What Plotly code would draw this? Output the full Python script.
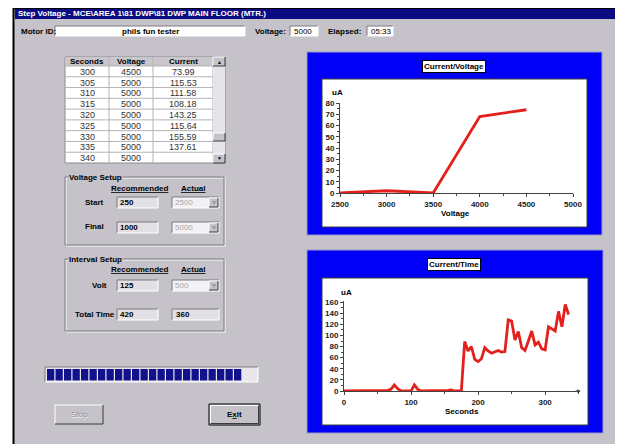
import plotly.graph_objects as go

W, H = 623, 444
OFF = 8  # page body margin pushes the figure 8px right and down
FONT = "Liberation Sans"
GRAY = "#c5c2c9"
DARK = "#7c7a80"
BLUE = "#0000f6"
RED = "#e3201c"

# ---- chart data ----
cv_voltage = [2500, 3000, 3500, 4000, 4500]
cv_current = [0, 2, 0, 68, 73.99]

ct_seconds = [0, 5, 10, 15, 20, 25, 30, 35, 40, 45, 50, 55, 60, 65, 70, 75, 80,
              85, 90, 95, 100, 105, 110, 115, 120, 125, 130, 135, 140, 145, 150,
              155, 160, 165, 170, 175, 180, 185, 190, 195, 200, 205, 210, 215,
              220, 225, 230, 235, 240, 245, 250, 255, 260, 265, 270, 275, 280,
              285, 290, 295, 300, 305, 310, 315, 320, 325, 330, 335]
ct_current = [0, 0, 0, 0, 0, 0, 0, 0, 0, 0, 0, 0, 0, 1, 3, 11, 4,
              0, 0, 0, 0, 11, 3, 0, 0, 0, 0, 0, 0, 0, 0,
              1, 2, 0, 0, 0, 89, 72, 80, 57, 53, 58, 78, 72,
              68, 71, 73, 70, 71, 128, 126, 92, 107, 78, 73, 90, 108,
              83, 88, 76, 73.99, 115.53, 111.58, 108.18, 143.25, 115.64, 155.59, 137.61]

# ---- panel data ----
table_header = ["Seconds", "Voltage", "Current"]
table_seconds = ["300", "305", "310", "315", "320", "325", "330", "335", "340"]
table_voltage = ["4500", "5000", "5000", "5000", "5000", "5000", "5000", "5000", "5000"]
table_current = ["73.99", "115.53", "111.58", "108.18", "143.25", "115.64", "155.59", "137.61", ""]

window_title = "Step Voltage - MCE\\AREA 1\\81 DWP\\81 DWP MAIN FLOOR (MTR.)"
motor_id = "phils fun tester"
voltage_now = "5000"
elapsed = "05:33"

vs_labels = ["Start", "Final"]
vs_recommended = ["250", "1000"]
vs_actual = ["2500", "5000"]
iv_labels = ["Volt", "Total Time"]
iv_recommended = ["125", "420"]
iv_actual = ["500", "360"]
progress_blocks = 23

shapes = []
annots = []


def X(px):
    return (px - OFF) / W


def Y(py):
    return 1 - (py - OFF) / H


def rect(x0, y0, x1, y1, fill, line=None, lw=1):
    shapes.append(dict(type="rect", xref="paper", yref="paper",
                       x0=X(x0), y0=Y(y1), x1=X(x1), y1=Y(y0),
                       fillcolor=fill, layer="below",
                       line=dict(color=line or fill, width=lw if line else 0)))


def seg(x0, y0, x1, y1, color, w=1):
    shapes.append(dict(type="line", xref="paper", yref="paper",
                       x0=X(x0), y0=Y(y0), x1=X(x1), y1=Y(y1), layer="below",
                       line=dict(color=color, width=w)))


def txt(x, y, s, size=8, color="#000", xanchor="left", bold=True, bg=None):
    annots.append(dict(x=X(x), y=Y(y), xref="paper", yref="paper",
                       text=("<b>%s</b>" % s) if bold else s, showarrow=False,
                       xanchor=xanchor, yanchor="middle", borderpad=0, bgcolor=bg,
                       font=dict(size=size, color=color, family=FONT)))


def sunken(x0, y0, x1, y1, fill="white"):
    rect(x0, y0, x1, y1, fill)
    seg(x0, y0, x1, y0, DARK)
    seg(x0, y0, x0, y1, DARK)
    seg(x0, y1, x1, y1, "white")
    seg(x1, y0, x1, y1, "white")


def raised(x0, y0, x1, y1, fill=GRAY):
    rect(x0, y0, x1, y1, fill)
    seg(x0, y0, x1, y0, "white")
    seg(x0, y0, x0, y1, "white")
    seg(x0, y1, x1, y1, "#3a3a3a")
    seg(x1, y0, x1, y1, "#3a3a3a")


def group(x0, y0, x1, y1, label):
    rect(x0 + 1, y0 + 1, x1 + 1, y1 + 1, "rgba(0,0,0,0)", "white")
    rect(x0, y0, x1, y1, "rgba(0,0,0,0)", DARK)
    txt(x0 + 3, y0, label, bg=GRAY)


def combo(x0, y0, x1, y1, value):
    sunken(x0, y0, x1, y1, "#f2f1f3")
    txt(x0 + 2, (y0 + y1) / 2, value, color="#a8a6ac", bold=False)
    raised(x1 - 10, y0 + 1, x1 - 1, y1 - 1)
    txt(x1 - 5.5, (y0 + y1) / 2, "▾", size=8, color="#9a989e", xanchor="center", bold=False)


# window background and title bar
rect(13, 7, W + OFF, H + OFF, GRAY)
seg(13.5, 8, 13.5, H + OFF, "black", 2)
seg(13, 8.5, W + OFF, 8.5, "black", 1.5)
rect(15, 9, W + OFF, 19, "#0b0b84")
txt(17, 14, window_title, color="white")

# top row fields
txt(20, 31, "Motor ID:")
sunken(55, 26, 245, 36)
txt(150, 31, motor_id, xanchor="center")
txt(287, 31, "Voltage:", xanchor="right")
sunken(290, 26, 318, 36)
txt(293, 31, voltage_now, bold=False)
txt(362, 31, "Elapsed:", xanchor="right")
sunken(367, 26, 393, 36)
txt(370, 31, elapsed, bold=False)

# data table
rect(65, 57, 225, 163, "white", "#8c8a90")
rect(65, 57, 213, 66, "#c9c7cc")
col_edges = [65, 109, 153, 213]
for i, h in enumerate(table_header):
    txt((col_edges[i] + col_edges[i + 1]) / 2, 61.5, h, xanchor="center")
row_h = (163 - 66) / len(table_seconds)
for c in col_edges[1:]:
    seg(c, 57, c, 163, "#b4b2b8")
for r in range(len(table_seconds)):
    yy = 66 + r * row_h
    seg(65, yy, 213, yy, "#b4b2b8")
    for i, col in enumerate([table_seconds, table_voltage, table_current]):
        txt((col_edges[i] + col_edges[i + 1]) / 2, yy + row_h / 2 + 0.5, col[r],
            size=9, color="#333", xanchor="center", bold=False)
# scrollbar
rect(213, 57, 225, 163, "#e6e4e8")
raised(213, 57, 225, 66)
raised(213, 154, 225, 163)
raised(213, 133, 225, 141)
txt(219, 61.5, "▲", size=5, xanchor="center", bold=False)
txt(219, 158.5, "▼", size=5, xanchor="center", bold=False)

# voltage setup
group(65, 177, 224, 245, "Voltage Setup")
txt(139, 188, "<u>Recommended</u>", xanchor="center")
txt(193, 188, "<u>Actual</u>", xanchor="center")
for i, lab in enumerate(vs_labels):
    y0 = 197 + i * 25
    txt(105, y0 + 5, lab, xanchor="right")
    sunken(117, y0, 158, y0 + 11, "#e2e0e5")
    txt(119, y0 + 5.5, vs_recommended[i])
    combo(172, y0, 219, y0 + 11, vs_actual[i])

# interval setup
group(65, 259, 224, 331, "Interval Setup")
txt(139, 269, "<u>Recommended</u>", xanchor="center")
txt(193, 269, "<u>Actual</u>", xanchor="center")
for i, lab in enumerate(iv_labels):
    y0 = 280 + i * 29
    txt(108 if i == 0 else 116, y0 + 5, lab, xanchor="right")
    sunken(117, y0, 158, y0 + 11, "#e2e0e5")
    txt(119, y0 + 5.5, iv_recommended[i])
    if i == 0:
        combo(172, y0, 219, y0 + 11, iv_actual[i])
    else:
        sunken(172, y0, 219, y0 + 11, "#e2e0e5")
        txt(175, y0 + 5.5, iv_actual[i])

# progress bar
sunken(45, 367, 258, 382, "#e9e7eb")
for b in range(progress_blocks):
    bx = 47 + b * 8.5
    rect(bx, 369, bx + 7.3, 380.5, "#12128c")

# buttons
raised(55, 405, 103, 424)
txt(79.5, 415, "Stop", color="white", xanchor="center", bold=False)
txt(79, 414.5, "Stop", color="#8e8c92", xanchor="center", bold=False)
rect(209, 404, 260, 425, GRAY, "black", 1)
raised(210.5, 405.5, 258.5, 423.5)
txt(234.5, 414.5, "E<u>x</u>it", xanchor="center")

# chart frames
rect(307, 52, 602, 235, BLUE, "#9a98c8", 1)
rect(322, 79, 587, 227, "white", "#3a3a3a", 1)
rect(307, 250, 603, 433, BLUE, "#9a98c8", 1)
rect(322, 278, 588, 425, "white", "#3a3a3a", 1)

for cx, cy, title in [(454, 66, "Current/Voltage"), (454, 264, "Current/Time")]:
    annots.append(dict(x=X(cx), y=Y(cy), xref="paper", yref="paper", showarrow=False,
                       xanchor="center", yanchor="middle",
                       text="<b>%s</b>" % title, bgcolor="white", bordercolor="black",
                       borderwidth=1, borderpad=1,
                       font=dict(size=8, family=FONT, color="black")))
txt(338, 93, "uA", xanchor="center")
txt(455, 213, "Voltage", xanchor="center")
txt(346, 292, "uA", xanchor="center")
txt(462, 411, "Seconds", xanchor="center")

fig = go.Figure()
fig.add_trace(go.Scatter(x=cv_voltage, y=cv_current, mode="lines",
                         line=dict(color=RED, width=2.8), xaxis="x", yaxis="y",
                         cliponaxis=False, hoverinfo="x+y"))
fig.add_trace(go.Scatter(x=ct_seconds, y=ct_current, mode="lines",
                         line=dict(color=RED, width=2.8), xaxis="x2", yaxis="y2",
                         cliponaxis=False, hoverinfo="x+y"))

annots.append(dict(x=353, y=0, ax=343, ay=0, xref="x2", yref="y2", axref="x2", ayref="y2",
                   text="", showarrow=True, arrowhead=2, arrowsize=0.7, arrowwidth=1,
                   arrowcolor="#444"))

axis_common = dict(showline=True, linecolor="#444", linewidth=1, showgrid=False,
                   zeroline=False, ticks="outside", ticklen=3, tickcolor="#444",
                   tickfont=dict(size=8, family=FONT, color="#222", weight="bold"),
                   fixedrange=True, automargin=False)

fig.update_layout(
    width=W, height=H, autosize=False,
    margin=dict(l=0, r=0, t=0, b=0, pad=0, autoexpand=False),
    paper_bgcolor="white", plot_bgcolor="rgba(0,0,0,0)",
    showlegend=False,
    font=dict(family=FONT),
    xaxis=dict(domain=[X(340), X(573)], range=[2500, 5000], tick0=2500, dtick=500,
               anchor="y", minor=dict(dtick=250, ticks="outside", ticklen=2, tickcolor="#444"),
               **axis_common),
    yaxis=dict(domain=[Y(193), Y(103)], range=[0, 80], dtick=10, anchor="x",
               minor=dict(dtick=5, ticks="outside", ticklen=2, tickcolor="#444"),
               **axis_common),
    xaxis2=dict(domain=[X(344), X(580)], range=[0, 352], dtick=100, anchor="y2",
                minor=dict(dtick=50, ticks="outside", ticklen=2, tickcolor="#444"),
                **axis_common),
    yaxis2=dict(domain=[Y(391), Y(301)], range=[0, 162], dtick=20, anchor="x2",
                minor=dict(dtick=10, ticks="outside", ticklen=2, tickcolor="#444"),
                **axis_common),
    shapes=shapes,
    annotations=annots,
)

fig.write_html("out.html")
